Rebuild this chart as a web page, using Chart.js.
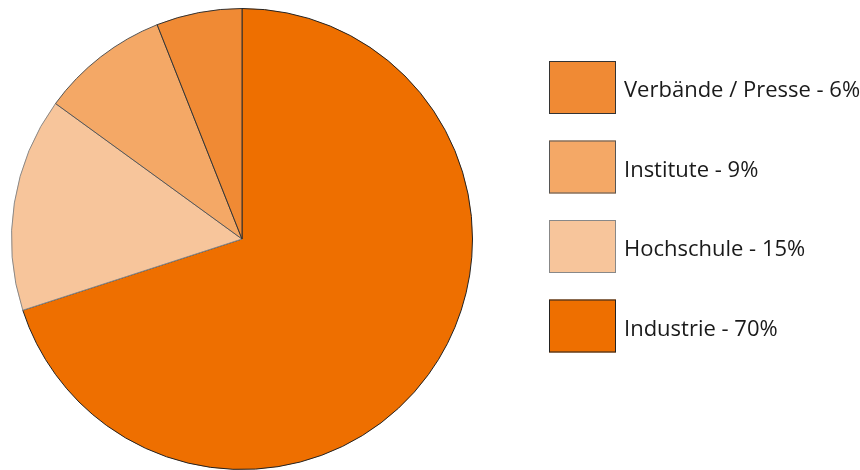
<!DOCTYPE html>
<html>
<head>
<meta charset="utf-8">
<script src="https://cdn.jsdelivr.net/npm/chart.js@4"></script>
<style>
  html, body { margin: 0; padding: 0; background: #fff; }
  #wrap { width: 860px; height: 470px; position: relative; }
</style>
</head>
<body>
<div id="wrap"><canvas id="pie"></canvas></div>
<script>
// ── Data ──
const labels = ["Industrie - 70%", "Hochschule - 15%", "Institute - 9%", "Verbände / Presse - 6%"];
const values = [70, 15, 9, 6];
const colors = ["#ee6f00", "#f7c59b", "#f4a866", "#f08a34"];
const borders = ["#222222", "#888888", "#555555", "#333333"];

// ── Legend drawn on canvas (reversed order, big boxes) ──
const boxLegend = {
  id: "boxLegend",
  afterDraw(chart) {
    const ctx = chart.ctx;
    const ds = chart.data.datasets[0];
    const n = chart.data.labels.length;
    ctx.save();
    ctx.font = "22px 'Open Sans', sans-serif";
    ctx.textBaseline = "alphabetic";
    ctx.lineWidth = 1;
    for (let k = 0; k < n; k++) {
      const i = n - 1 - k;
      const top = 61 + k * 79.5;
      ctx.fillStyle = ds.backgroundColor[i];
      ctx.fillRect(549, top, 67, 53);
      ctx.strokeStyle = ds.borderColor[i];
      ctx.strokeRect(549.5, top + 0.5, 66, 52);
      ctx.fillStyle = "#1a1a1a";
      ctx.fillText(chart.data.labels[i], 624, top + 36);
    }
    ctx.restore();
  }
};

new Chart(document.getElementById("pie"), {
  type: "pie",
  data: {
    labels,
    datasets: [{
      data: values,
      backgroundColor: colors,
      borderColor: borders,
      borderWidth: 1,
    }],
  },
  options: {
    responsive: true,
    maintainAspectRatio: false,
    animation: false,
    layout: { padding: { left: 10, top: 8, right: 386, bottom: -2 } },
    plugins: { legend: { display: false }, tooltip: { enabled: false } },
  },
  plugins: [boxLegend],
});
</script>
</body>
</html>
